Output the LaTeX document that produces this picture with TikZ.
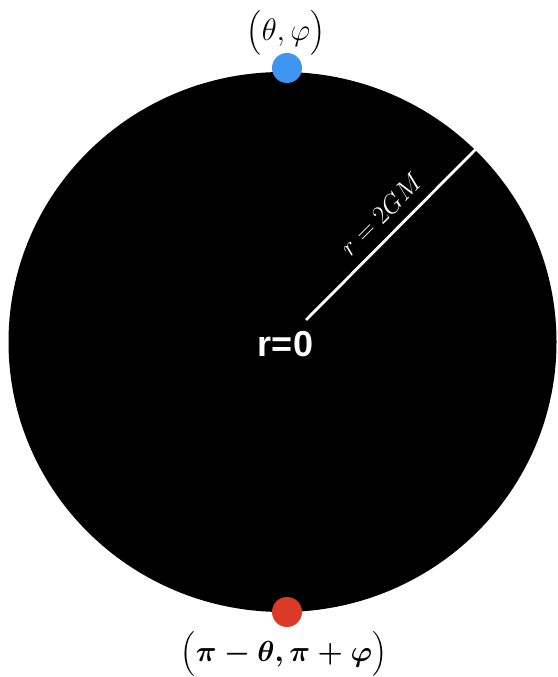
\RequirePackage{fix-cm}
\documentclass[tikz,border=0pt]{standalone}
\usepackage{amsmath}
\usepackage{fontspec}
\newfontfamily\labelsans{Liberation Sans}
\definecolor{dotblue}{RGB}{62,150,240}
\definecolor{dotred}{RGB}{218,58,38}
\newcommand{\boldlabel}[1]{\mbox{\boldmath$#1$}}
\begin{document}
\begin{tikzpicture}[x=1pt,y=1pt,
  dotnode/.style={circle,inner sep=0pt,minimum size=30pt},
  mathlabel/.style={inner sep=0pt}]
\useasboundingbox (0,0) rectangle (557,677);
\fill[black] (282.5,335) ellipse [x radius=274, y radius=270];
\node[dotnode,fill=dotblue] (northdot) at (287,609) {};
\node[dotnode,fill=dotred] (southdot) at (287,65) {};
\coordinate (center) at (306,357);
\coordinate (rim) at (476,528);
\draw[white,line width=2.8pt] (center) -- (rim)
  node[pos=0.53, sloped, above=11pt, inner sep=0pt, text=white,
       font=\fontsize{26}{26}\selectfont] (horizonlabel) {$r = 2GM$};
\node[text=white, anchor=base, inner sep=0pt,
      font=\labelsans\bfseries\fontsize{36}{36}\selectfont] (origin) at (285.5,320) {r=0};
\node[mathlabel, font=\fontsize{31}{31}\selectfont] (northlabel) at (286,644) {$\bigl(\theta,\varphi\bigr)$};
\node[mathlabel, font=\fontsize{29}{29}\selectfont] (southlabel) at (284,23) {\boldlabel{\bigl(\pi-\theta,\pi+\varphi\bigr)}};
\end{tikzpicture}
\end{document}
